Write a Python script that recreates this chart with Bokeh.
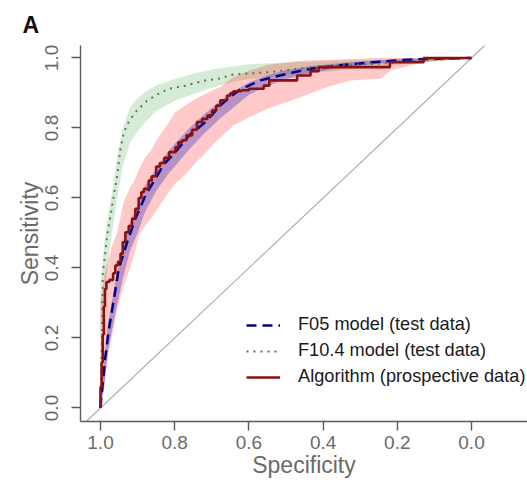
from bokeh.plotting import figure
from bokeh.models import Range1d, FixedTicker, Slope, Title
from bokeh.embed import file_html
from bokeh.resources import INLINE

# ---------------- data ----------------
tick_vals = [0.0, 0.2, 0.4, 0.6, 0.8, 1.0]
tick_labels = ["0.0", "0.2", "0.4", "0.6", "0.8", "1.0"]

# F05 model (test data) - ROC curve
f05_spec = [1.000, 0.995, 0.987, 0.978, 0.964, 0.951, 0.928, 0.906, 0.879, 0.852, 0.830,
            0.798, 0.760, 0.717, 0.681, 0.650, 0.623, 0.569, 0.497, 0.434, 0.353, 0.264,
            0.173, 0.100, 0.000]
f05_sens = [0.000, 0.059, 0.145, 0.221, 0.310, 0.398, 0.474, 0.541, 0.607, 0.655, 0.695,
            0.731, 0.780, 0.817, 0.860, 0.890, 0.910, 0.936, 0.955, 0.969, 0.979, 0.988,
            0.995, 0.998, 1.000]
# F05 confidence band
f05_ci_spec = [1.00, 0.99, 0.98, 0.96, 0.94, 0.92, 0.90, 0.88, 0.85, 0.82, 0.80, 0.76,
               0.72, 0.68, 0.64, 0.60, 0.55, 0.50, 0.43, 0.35, 0.26, 0.17, 0.08, 0.00]
f05_ci_hi = [0.05, 0.14, 0.24, 0.36, 0.46, 0.53, 0.58, 0.635, 0.685, 0.73, 0.755, 0.80,
             0.84, 0.875, 0.905, 0.930, 0.950, 0.965, 0.977, 0.986, 0.993, 0.998, 1.0, 1.0]
f05_ci_lo = [0.00, 0.06, 0.16, 0.27, 0.37, 0.45, 0.50, 0.56, 0.62, 0.665, 0.69, 0.74,
             0.785, 0.825, 0.86, 0.895, 0.92, 0.94, 0.958, 0.972, 0.983, 0.99, 0.995, 1.0]

# F10.4 model (test data) - ROC curve
f104_spec = [1.000, 0.998, 0.995, 0.994, 0.988, 0.982, 0.973, 0.964, 0.955, 0.946, 0.937,
             0.924, 0.906, 0.879, 0.852, 0.816, 0.771, 0.717, 0.681, 0.642, 0.550, 0.461,
             0.353, 0.245, 0.084, 0.000]
f104_sens = [0.000, 0.100, 0.250, 0.379, 0.436, 0.493, 0.550, 0.607, 0.664, 0.741, 0.788,
             0.817, 0.845, 0.874, 0.893, 0.912, 0.921, 0.936, 0.941, 0.953, 0.959, 0.970,
             0.979, 0.984, 0.996, 1.000]
# F10.4 confidence band
f104_ci_spec = [1.00, 0.99, 0.98, 0.965, 0.955, 0.94, 0.92, 0.90, 0.88, 0.85, 0.80, 0.75,
                0.70, 0.65, 0.60, 0.50, 0.40, 0.30, 0.20, 0.10, 0.00]
f104_ci_hi = [0.35, 0.47, 0.55, 0.64, 0.72, 0.80, 0.86, 0.885, 0.903, 0.922, 0.940, 0.955,
              0.967, 0.975, 0.982, 0.987, 0.991, 0.994, 0.997, 1.0, 1.0]
f104_ci_lo = [0.20, 0.30, 0.42, 0.53, 0.60, 0.69, 0.76, 0.79, 0.816, 0.848, 0.878, 0.897,
              0.915, 0.930, 0.940, 0.950, 0.960, 0.970, 0.980, 0.990, 1.0]

# Algorithm (prospective data) - empirical ROC (step knots)
alg_spec = [1.000, 0.997, 0.994, 0.991, 0.988, 0.984, 0.976, 0.966, 0.960, 0.953, 0.946,
            0.940, 0.933, 0.924, 0.915, 0.906, 0.897, 0.890, 0.883, 0.870, 0.862, 0.850,
            0.840, 0.828, 0.815, 0.798, 0.790, 0.780, 0.768, 0.753, 0.740, 0.726, 0.712,
            0.699, 0.688, 0.677, 0.659, 0.650, 0.642, 0.620, 0.600, 0.578, 0.560, 0.545,
            0.470, 0.434, 0.412, 0.220, 0.129, 0.000]
alg_sens = [0.000, 0.060, 0.130, 0.210, 0.290, 0.340, 0.360, 0.366, 0.385, 0.407, 0.418,
            0.441, 0.474, 0.502, 0.520, 0.541, 0.569, 0.600, 0.617, 0.626, 0.650, 0.662,
            0.690, 0.700, 0.715, 0.731, 0.745, 0.759, 0.765, 0.779, 0.795, 0.817, 0.826,
            0.836, 0.850, 0.864, 0.879, 0.893, 0.900, 0.905, 0.908, 0.912, 0.912, 0.921,
            0.936, 0.950, 0.962, 0.974, 0.988, 1.000]
# Algorithm confidence band
alg_ci_spec = [1.000, 0.990, 0.980, 0.970, 0.955, 0.937, 0.920, 0.906, 0.897, 0.880, 0.861,
               0.852, 0.820, 0.798, 0.770, 0.744, 0.720, 0.699, 0.677, 0.642, 0.596, 0.550,
               0.461, 0.389, 0.326, 0.245, 0.218, 0.129, 0.000]
alg_ci_hi = [0.300, 0.380, 0.420, 0.460, 0.502, 0.590, 0.630, 0.655, 0.680, 0.715, 0.741,
             0.760, 0.810, 0.845, 0.866, 0.883, 0.896, 0.907, 0.917, 0.945, 0.965, 0.980,
             0.992, 0.995, 0.997, 1.000, 1.000, 1.000, 1.000]
alg_ci_lo = [0.000, 0.060, 0.150, 0.200, 0.280, 0.350, 0.400, 0.450, 0.493, 0.520, 0.545,
             0.559, 0.610, 0.642, 0.668, 0.700, 0.725, 0.750, 0.772, 0.807, 0.832, 0.855,
             0.888, 0.917, 0.936, 0.941, 0.964, 0.988, 1.000]

FONT = "Liberation Sans"
GREY = "#6a6a6a"

p = figure(width=527, height=482, output_backend="svg", toolbar_location=None,
           x_range=Range1d(1.0539, -0.1509), y_range=Range1d(-0.0386, 1.0357),
           min_border_left=80, min_border_right=0, min_border_top=45, min_border_bottom=61)
p.outline_line_color = None
p.grid.visible = False
p.background_fill_color = "white"

# panel letter
p.title = Title(text="A", align="left", offset=-58, standoff=16,
                text_font=FONT, text_font_size="23px", text_font_style="bold",
                text_color="#111111")

# bands
p.varea(x=f104_ci_spec, y1=f104_ci_lo, y2=f104_ci_hi, fill_color="#008000", fill_alpha=0.16)
p.varea(x=alg_ci_spec, y1=alg_ci_lo, y2=alg_ci_hi, fill_color="#ff0000", fill_alpha=0.21)
p.varea(x=f05_ci_spec, y1=f05_ci_lo, y2=f05_ci_hi, fill_color="#3a2fbf", fill_alpha=0.36)

# chance diagonal
p.add_layout(Slope(gradient=-1, y_intercept=1, line_color="#b0b0b0", line_width=1.2, level="underlay"))

# curves
p.line(f05_spec, f05_sens, line_color="#00008b", line_width=2.5, line_dash="10 6",
       legend_label="F05 model (test data)")
p.line(f104_spec, f104_sens, line_color="#5f755f", line_width=2, line_dash="2 5",
       legend_label="F10.4 model (test data)")
p.step(alg_spec, alg_sens, mode="before", line_color="#8b1010", line_width=2.6,
       legend_label="Algorithm (prospective data)")

# axes
for ax in (p.xaxis[0], p.yaxis[0]):
    ax.ticker = FixedTicker(ticks=tick_vals)
    ax.major_label_overrides = {v: s for v, s in zip(tick_vals, tick_labels)}
    ax.minor_tick_line_color = None
    ax.major_tick_in = 0
    ax.major_tick_out = 9
    ax.axis_line_color = "#5a5a5a"
    ax.axis_line_width = 1.4
    ax.major_tick_line_color = "#5a5a5a"
    ax.major_tick_line_width = 1.4
    ax.major_label_text_font = FONT
    ax.major_label_text_font_size = "19px"
    ax.major_label_text_color = GREY
    ax.axis_label_text_font = FONT
    ax.axis_label_text_font_size = "23px"
    ax.axis_label_text_font_style = "normal"
    ax.axis_label_text_color = GREY
    ax.axis_label_standoff = 0

p.xaxis.major_label_standoff = 5
p.xaxis.axis_label = "Specificity"
p.yaxis.major_label_standoff = 13
p.yaxis.major_label_orientation = "vertical"
p.yaxis.axis_label = "Sensitivity"

# legend
lg = p.legend[0]
lg.location = (166, 34)
lg.padding = 0
lg.margin = 0
lg.spacing = 5
lg.glyph_width = 34
lg.glyph_height = 20
lg.label_height = 20
lg.label_standoff = 18
lg.label_text_font = FONT
lg.label_text_font_size = "18.2px"
lg.label_text_color = "#1a1a1a"
lg.background_fill_alpha = 0
lg.border_line_alpha = 0

open("out.html", "w").write(file_html(p, INLINE))
